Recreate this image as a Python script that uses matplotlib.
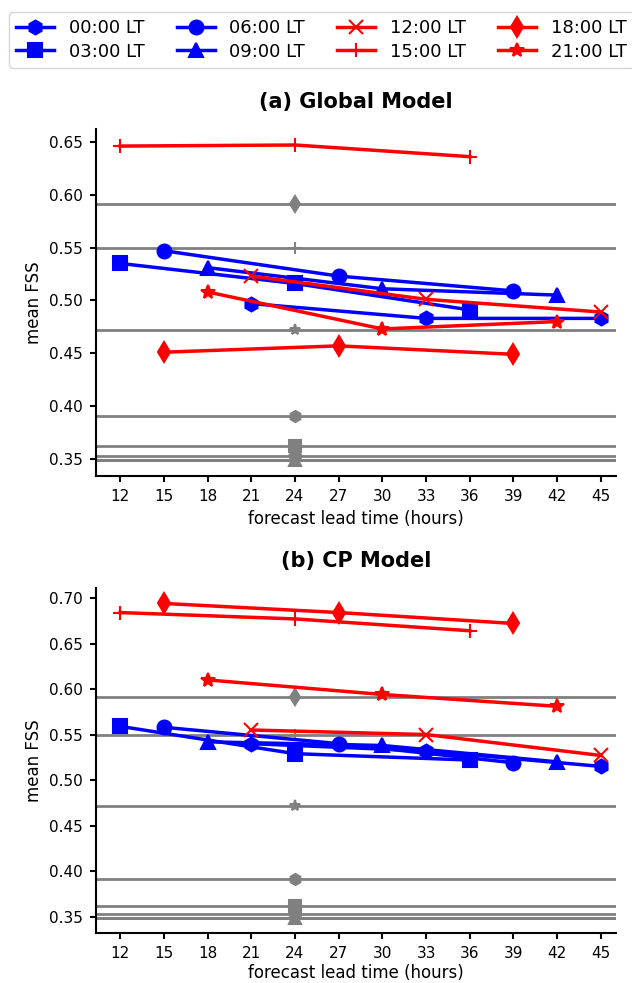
import numpy as np
import matplotlib
matplotlib.use("Agg")
import matplotlib.pyplot as plt

# local times of the forecasts
labels = ["00:00 LT", "03:00 LT", "06:00 LT", "09:00 LT",
          "12:00 LT", "15:00 LT", "18:00 LT", "21:00 LT"]
markers = ["h", "s", "o", "^", "x", "+", "d", "*"]
colours = ["blue"] * 4 + ["red"] * 4

# lead times (hours) for each series
lead = [[21, 33, 45], [12, 24, 36], [15, 27, 39], [18, 30, 42],
        [21, 33, 45], [12, 24, 36], [15, 27, 39], [18, 30, 42]]

# mean FSS, global model
fss_global = [[0.497, 0.483, 0.483],
              [0.535, 0.516, 0.491],
              [0.547, 0.523, 0.509],
              [0.531, 0.511, 0.505],
              [0.523, 0.501, 0.489],
              [0.646, 0.647, 0.636],
              [0.451, 0.457, 0.449],
              [0.508, 0.473, 0.480]]

# mean FSS, CP model
fss_cp = [[0.540, 0.532, 0.515],
          [0.559, 0.529, 0.522],
          [0.558, 0.540, 0.519],
          [0.542, 0.538, 0.520],
          [0.555, 0.550, 0.527],
          [0.684, 0.677, 0.664],
          [0.694, 0.684, 0.672],
          [0.610, 0.594, 0.581]]

# grey reference values (shown at 24 h)
fss_ref = [0.391, 0.362, 0.353, 0.349, 0.349, 0.550, 0.591, 0.472]
ref_lead = 24

xticks = np.arange(12, 46, 3)


def draw_panel(ax, fss, title, xpad):
    for i in range(len(labels)):
        ax.axhline(fss_ref[i], color="grey", lw=2, zorder=1)
        ax.plot(ref_lead, fss_ref[i], marker=markers[i], color="grey",
                ms=8, mew=1.5, zorder=1)
    handles = []
    for i in range(len(labels)):
        h, = ax.plot(lead[i], fss[i], marker=markers[i], color=colours[i],
                     lw=2.5, ms=10, mew=1.5, label=labels[i], zorder=3)
        handles.append(h)
    ax.set_xlim(10.35, 46.05)
    ax.set_xticks(xticks)
    ax.yaxis.set_major_formatter(matplotlib.ticker.FormatStrFormatter("%.2f"))
    ax.set_xlabel("forecast lead time (hours)", fontsize=12, labelpad=xpad)
    ax.set_ylabel("mean FSS", fontsize=12)
    ax.set_title(title, fontsize=15, fontweight="bold", pad=15)
    ax.spines["top"].set_visible(False)
    ax.spines["right"].set_visible(False)
    ax.spines["left"].set_linewidth(1.5)
    ax.spines["bottom"].set_linewidth(1.5)
    ax.tick_params(labelsize=11, width=1.5, length=4.5, pad=5)
    return handles


fig = plt.figure(figsize=(6.32, 9.83), dpi=100)
ax1 = fig.add_axes([0.152, 0.516, 0.823, 0.3525])
ax2 = fig.add_axes([0.152, 0.0506, 0.823, 0.3515])

handles = draw_panel(ax1, fss_global, "(a) Global Model", 4)
draw_panel(ax2, fss_cp, "(b) CP Model", 2)

fig.legend(handles=handles, ncol=4, loc="upper left",
           bbox_to_anchor=(9 / 632, 1 - 12 / 983), borderaxespad=0,
           fontsize=13, labelspacing=0.3, columnspacing=1.8,
           handlelength=2.1)

fig.savefig("out.png", dpi=100)
